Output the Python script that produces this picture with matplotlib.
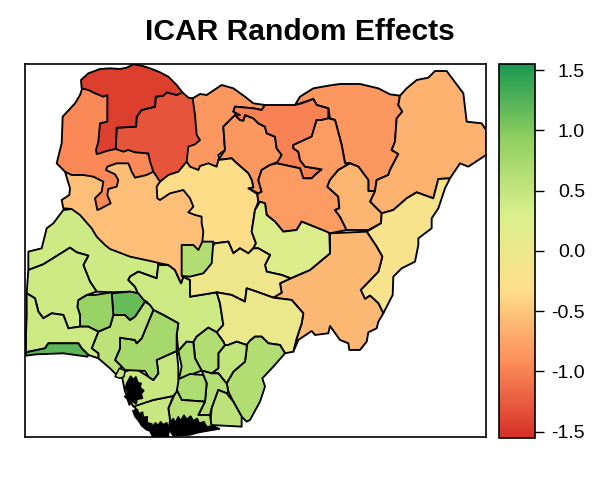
import matplotlib
matplotlib.use("Agg")
import matplotlib.pyplot as plt
from matplotlib.colors import LinearSegmentedColormap, Normalize
from matplotlib.cm import ScalarMappable

plt.rcParams['font.family'] = ['Liberation Sans', 'DejaVu Sans']

title = "ICAR Random Effects"
palette = ["#D73027", "#FC8D59", "#FEE08B", "#D9EF8B", "#91CF60", "#1A9850"]
scale_limits = [-1.55, 1.55]
cbar_ticks = [-1.5, -1.0, -0.5, 0.0, 0.5, 1.0, 1.5]
cbar_labels = ["-1.5", "-1.0", "-0.5", "0.0", "0.5", "1.0", "1.5"]

# State outlines in map units, listed back to front
kwara = [(215,627),(190,630),(160,670),(140,685),(135,705),(125,745),(85,755),(85,810),(130,793),(210,743),(230,757),(265,767),(250,795),(270,845),(290,875),(335,877),(390,875),(415,880),(405,860),(385,840),(390,830),(415,815),(470,835),(475,795),(470,770),(330,730),(240,630)]
kogi = [(385,840),(390,830),(415,815),(470,835),(475,795),(505,795),(525,810),(543,850),(550,830),(570,840),(570,890),(650,877),(660,910),(670,975),(650,997),(625,983),(590,1010),(580,1027),(560,1025),(535,1053),(530,1005),(535,970),(490,945),(460,930),(440,905),(420,895),(405,860)]
niger = [(195,515),(210,565),(208,585),(185,600),(190,625),(215,627),(240,645),(275,685),(290,710),(315,735),(330,747),(390,770),(460,785),(480,790),(505,795),(525,810),(543,850),(550,830),(580,780),(620,740),(640,650),(590,590),(520,540),(470,520),(440,470),(200,470)]
katsina = [(578,295),(600,282),(620,285),(665,255),(700,265),(735,290),(760,310),(795,315),(785,330),(760,325),(705,320),(700,335),(720,345),(705,348),(670,380),(675,450),(655,465),(660,485),(640,510),(580,520),(550,480),(560,420),(570,300)]
kano = [(670,380),(705,345),(720,360),(730,362),(735,345),(760,355),(775,370),(795,380),(800,400),(825,410),(830,445),(845,465),(835,485),(810,495),(785,510),(775,540),(785,575),(775,580),(745,565),(760,562),(755,540),(745,520),(705,485),(695,475),(655,480),(675,450)]
kaduna = [(480,545),(490,520),(550,470),(560,485),(570,500),(595,510),(600,498),(625,490),(650,500),(655,480),(695,475),(705,485),(745,520),(755,540),(760,562),(745,565),(772,582),(775,605),(765,630),(755,695),(768,730),(760,745),(745,760),(720,745),(700,760),(685,725),(645,730),(607,725),(610,695),(605,670),(605,650),(585,645),(565,637),(580,620),(570,595),(550,570),(510,580),(480,600),(472,595),(470,560)]
kebbi = [(245,270),(240,285),(225,310),(188,350),(185,430),(170,490),(195,515),(215,525),(250,525),(280,530),(310,545),(305,575),(285,595),(292,630),(300,627),(332,610),(322,585),(325,567),(350,560),(355,540),(345,523),(318,510),(322,500),(350,490),(385,490),(395,515),(405,533),(440,525),(460,515),(475,480),(330,400),(330,280),(260,245)]
zamfara = [(547,277),(565,293),(578,295),(585,345),(590,405),(600,420),(585,433),(565,440),(560,485),(535,515),(505,525),(480,545),(460,515),(450,485),(445,460),(405,457),(385,450),(370,455),(347,447),(350,383),(408,380),(410,350),(425,330),(465,320),(467,290),(490,287),(500,277),(530,285)]
sokoto = [(243,240),(265,220),(300,207),(330,205),(360,207),(380,203),(400,193),(425,197),(450,205),(480,217),(505,230),(530,255),(547,277),(530,285),(500,277),(490,287),(467,290),(465,320),(425,330),(410,350),(408,380),(350,383),(347,447),(320,453),(300,460),(290,462),(288,450),(295,425),(300,370),(322,365),(322,285),(310,290),(285,280),(265,270),(245,265)]
yobe = [(885,315),(900,290),(940,265),(985,257),(1020,252),(1080,252),(1135,265),(1170,283),(1200,287),(1195,315),(1207,335),(1190,355),(1185,425),(1175,450),(1195,462),(1170,510),(1165,525),(1130,540),(1125,573),(1105,573),(1105,540),(1075,500),(1050,490),(1035,490),(1025,435),(1005,360),(990,355),(985,325),(950,315),(940,297)]
borno = [(1200,287),(1220,265),(1250,240),(1285,233),(1305,213),(1340,213),(1390,280),(1400,365),(1445,370),(1458,390),(1458,465),(1405,500),(1380,490),(1350,535),(1315,537),(1300,595),(1250,577),(1220,595),(1180,630),(1145,640),(1110,605),(1125,573),(1130,540),(1165,525),(1170,510),(1195,462),(1175,450),(1185,425),(1190,355),(1207,335),(1195,315)]
jigawa = [(705,320),(760,325),(785,330),(795,315),(885,315),(905,310),(940,297),(950,315),(985,325),(985,355),(965,360),(950,360),(935,410),(880,435),(880,445),(895,455),(900,480),(915,500),(965,508),(945,525),(935,535),(910,535),(900,505),(830,490),(845,465),(830,445),(825,410),(800,400),(795,380),(775,370),(760,355),(735,345),(730,362),(720,360),(705,345),(720,345),(700,335)]
bauchi = [(775,540),(785,510),(810,495),(830,490),(900,505),(910,535),(935,535),(945,525),(965,508),(915,500),(900,480),(895,455),(880,445),(880,435),(935,410),(950,360),(965,360),(985,355),(1005,360),(1025,435),(1035,490),(1050,490),(1015,510),(990,540),(982,560),(1015,590),(1018,625),(1005,630),(1020,650),(1040,690),(990,700),(905,665),(890,690),(850,695),(825,665),(800,645),(795,610),(775,605),(772,582),(785,575)]
gombe = [(1050,490),(1075,500),(1105,540),(1105,573),(1125,573),(1110,605),(1145,640),(1143,670),(1105,690),(1040,690),(1020,650),(1005,630),(1018,625),(1015,590),(982,560),(990,540),(1015,510)]
adamawa = [(1315,537),(1350,535),(1335,565),(1315,625),(1295,655),(1295,685),(1255,715),(1255,735),(1245,785),(1205,805),(1180,830),(1178,885),(1150,940),(1135,910),(1110,887),(1095,897),(1082,870),(1135,815),(1147,770),(1130,740),(1100,695),(1143,670),(1145,640),(1180,630),(1220,595),(1250,577),(1300,595)]
taraba = [(990,700),(1100,695),(1130,740),(1147,770),(1135,815),(1082,870),(1095,897),(1110,887),(1135,910),(1150,940),(1135,965),(1130,985),(1105,997),(1100,1025),(1080,1050),(1048,1050),(1045,1030),(1020,1020),(990,978),(985,1000),(945,1005),(935,993),(895,1020),(880,1055),(890,1015),(905,970),(910,940),(875,900),(820,893),(845,878),(840,850),(872,835),(930,810),(990,760)]
plateau = [(780,605),(765,630),(755,695),(768,730),(760,745),(775,745),(810,765),(795,795),(800,815),(845,825),(872,835),(930,810),(990,760),(988,700),(980,695),(905,665),(890,690),(850,695),(825,665),(800,645),(795,610)]
nasarawa = [(645,730),(685,725),(700,760),(720,745),(745,760),(760,745),(775,745),(810,765),(795,795),(800,815),(845,825),(872,835),(840,850),(845,878),(820,893),(770,875),(740,865),(735,905),(695,885),(650,877),(570,890),(570,840),(550,830),(600,800),(620,760)]
fct = [(545,735),(580,735),(595,750),(607,725),(640,725),(635,790),(610,820),(570,830),(545,828)]
benue = [(650,877),(695,885),(735,905),(740,865),(770,875),(820,893),(875,900),(910,940),(905,970),(890,1015),(880,1055),(855,1060),(840,1035),(805,1030),(785,1010),(765,1010),(750,1022),(740,1035),(710,1025),(685,1035),(675,1047),(670,1025),(650,997),(670,975),(660,910)]
cross_river = [(740,1035),(750,1022),(765,1010),(785,1010),(805,1030),(840,1035),(855,1060),(820,1100),(787,1135),(795,1160),(780,1205),(750,1260),(740,1265),(725,1250),(700,1205),(685,1175),(680,1150),(700,1115),(735,1085),(740,1045)]
enugu = [(675,1035),(685,1035),(710,1025),(740,1035),(740,1045),(735,1085),(700,1115),(680,1150),(675,1145),(655,1120),(635,1120),(655,1105),(655,1060)]
anambra = [(580,1027),(590,1010),(625,983),(650,997),(670,1025),(675,1035),(655,1060),(655,1105),(635,1120),(605,1112),(585,1075),(582,1040)]
ebonyi = [(535,1053),(560,1025),(580,1027),(585,1075),(605,1112),(570,1125),(535,1145),(545,1100)]
abia = [(605,1112),(635,1120),(655,1120),(675,1145),(680,1150),(685,1175),(680,1180),(655,1170),(635,1225),(630,1245),(595,1245),(615,1205),(620,1150),(610,1125)]
imo = [(530,1140),(570,1122),(610,1125),(620,1150),(615,1205),(545,1200),(530,1170)]
akwa_ibom = [(655,1170),(680,1180),(700,1205),(725,1250),(725,1280),(630,1275),(635,1225)]
rivers = [(505,1225),(530,1170),(545,1200),(615,1205),(595,1245),(630,1245),(635,1282),(600,1295),(520,1302),(510,1260)]
bayelsa = [(400,1215),(460,1200),(520,1188),(505,1225),(510,1260),(505,1300),(470,1308),(430,1262)]
delta = [(375,1115),(405,1105),(445,1130),(460,1140),(475,1120),(470,1080),(530,1053),(535,1100),(535,1145),(530,1175),(520,1188),(460,1200),(400,1220),(375,1175),(365,1125)]
edo = [(345,1080),(360,1045),(360,1013),(405,1020),(410,1030),(425,1015),(460,930),(490,945),(535,970),(530,1005),(530,1053),(470,1080),(475,1120),(460,1140),(445,1130),(435,1113),(375,1110)]
ondo = [(275,1045),(295,995),(330,980),(340,945),(375,945),(390,960),(405,950),(435,905),(450,915),(460,930),(425,1015),(410,1030),(405,1020),(360,1013),(360,1045),(345,1080),(365,1100),(350,1125),(330,1105),(295,1075),(295,1060)]
ekiti = [(335,880),(390,875),(415,880),(435,905),(405,950),(390,960),(375,945),(340,945)]
osun = [(232,920),(235,900),(260,885),(285,885),(335,877),(340,945),(330,980),(295,995),(265,980),(240,980),(240,945)]
oyo = [(85,810),(130,793),(210,743),(230,757),(265,767),(250,795),(270,845),(290,875),(260,885),(235,900),(232,920),(240,945),(240,980),(205,985),(190,945),(155,940),(130,955),(115,935),(105,895),(80,880)]
ogun = [(80,880),(105,895),(115,935),(130,955),(155,940),(190,945),(205,985),(240,980),(265,980),(295,995),(275,1045),(295,1060),(295,1075),(265,1065),(245,1045),(235,1030),(145,1030),(135,1045),(78,1057),(78,1000),(80,950)]
lagos = [(78,1067),(78,1057),(135,1045),(145,1030),(235,1030),(245,1045),(265,1065),(262,1070),(190,1060),(110,1063)]

state_outlines = [kwara, kogi, niger, katsina, kano, kaduna, kebbi, zamfara, sokoto, yobe, borno, jigawa,
                  bauchi, gombe, adamawa, taraba, plateau, nasarawa, fct, benue, cross_river, enugu, anambra,
                  ebonyi, abia, imo, akwa_ibom, rivers, bayelsa, delta, edo, ondo, ekiti, osun, oyo, ogun, lagos]
state_values = [0.40, 0.42, -0.55, -0.85, -0.85, -0.33, -0.95, -1.30, -1.45, -0.85, -0.65, -1.00,
                -0.82, -0.62, -0.20, -0.60, 0.22, -0.05, 0.65, 0.00, 0.65, 0.50, 0.65,
                0.68, 0.62, 0.68, 0.55, 0.60, 0.45, 0.45, 0.75, 0.55, 1.15, 0.85, 0.42, 0.42, 1.20]

# Mangrove creeks of the delta, which print as solid black
creek_outlines = [
    [(380,1150),(392,1128),(400,1138),(408,1130),(414,1148),(424,1150),(420,1162),(432,1172),(424,1182),(428,1195),(412,1198),(408,1212),(396,1204),(388,1216),(382,1198),(374,1190),(384,1178),(376,1165)],
    [(458,1280),(466,1268),(474,1276),(482,1265),(490,1274),(500,1268),(508,1285),(505,1310),(458,1310),(450,1295)],
    [(510,1268),(520,1255),(525,1268),(535,1250),(542,1262),(552,1245),(560,1258),(572,1248),(580,1262),(592,1255),(598,1270),(612,1265),(620,1280),(640,1278),(660,1287),(630,1292),(600,1297),(570,1305),(520,1308),(508,1290)],
    [(398,1232),(412,1228),(416,1242),(428,1236),(430,1252),(442,1250),(442,1268),(456,1272),(458,1295),(440,1290),(425,1278),(415,1262),(405,1250)],
]
islet_outlines = [[(345,1130),(358,1105),(375,1112),(372,1130),(360,1135)]]

cmap = LinearSegmentedColormap.from_list("icar", palette, N=256)
norm = Normalize(*scale_limits)
sm = ScalarMappable(norm=norm, cmap=cmap)

W, H = 600, 480
fig = plt.figure(figsize=(W/100, H/100), dpi=100)

ax = fig.add_axes([25/W, 1-437.3/H, 461/W, 373.3/H])
for outline, value in zip(state_outlines, state_values):
    xs, ys = zip(*outline)
    ax.fill(xs, ys, facecolor=sm.to_rgba(value), edgecolor='black', linewidth=1.35, joinstyle='round')
for outline in islet_outlines:
    xs, ys = zip(*outline)
    ax.fill(xs, ys, facecolor=sm.to_rgba(0.45), edgecolor='black', linewidth=1.1)
for outline in creek_outlines:
    xs, ys = zip(*outline)
    ax.fill(xs, ys, facecolor='black', edgecolor='black', linewidth=1.0)
ax.set_xlim(75, 1458)
ax.set_ylim(1312, 192)
ax.set_xticks([])
ax.set_yticks([])
for s in ax.spines.values():
    s.set_linewidth(1.2)

cax = fig.add_axes([499/W, 1-437.6/H, 35.7/W, 373.6/H])
cb = fig.colorbar(sm, cax=cax)
cb.set_ticks(cbar_ticks)
cb.set_ticklabels(cbar_labels)
cax.tick_params(axis='y', length=6.3, width=1.0, pad=30, labelsize=14)
for lab in cax.get_yticklabels():
    lab.set_ha('right')
cb.outline.set_linewidth(1.2)

fig.text(0.5, 1-32/H, title, ha='center', va='center', fontsize=21.6, fontweight='bold')
fig.savefig("out.png", dpi=100)
